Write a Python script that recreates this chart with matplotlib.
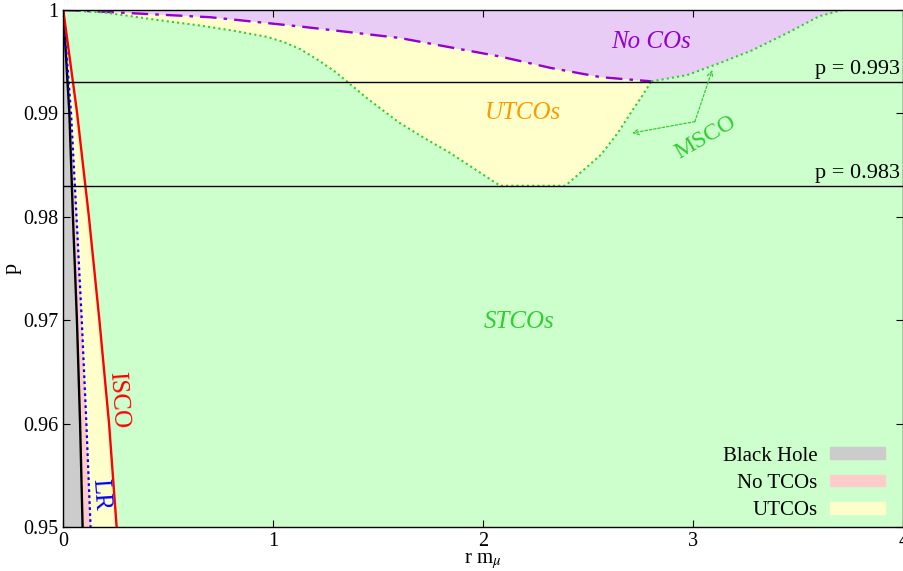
import numpy as np
import matplotlib
matplotlib.use("Agg")
import matplotlib.pyplot as plt
from matplotlib.patches import Patch

plt.rcParams["font.family"] = ["Liberation Serif", "DejaVu Serif"]
plt.rcParams["mathtext.fontset"] = "stix"

# boundary curves near the horizon, r as a function of p
p_edge = [1.0, 0.99, 0.98, 0.97, 0.96, 0.95]
r_bh = [0.0, 0.029, 0.046, 0.065, 0.080, 0.092]
r_lr = [0.0, 0.037, 0.063, 0.088, 0.110, 0.130]
r_isco = [0.0, 0.066, 0.122, 0.172, 0.218, 0.254]

# upper limit of circular orbits (dash-dot)
r_noco = [0.0, 0.22, 0.70, 0.94, 1.13, 1.60, 2.08, 2.32, 2.56, 2.80]
p_noco = [1.0, 0.9998, 0.9993, 0.9988, 0.9984, 0.9973, 0.9955, 0.9944, 0.9935, 0.9931]

# marginally stable circular orbits: branch below the pocket ...
r_msco_lo = [0.0, 0.2, 0.46, 0.65, 0.81, 0.97, 1.05, 1.13, 1.21, 1.29, 1.35, 1.45,
             1.60, 1.72, 1.84, 1.96, 2.08, 2.39, 2.47, 2.56, 2.64, 2.71, 2.76, 2.80]
p_msco_lo = [1.0, 0.99975, 0.9990, 0.9985, 0.9980, 0.9974, 0.9969, 0.9962, 0.9952,
             0.9941, 0.9931, 0.9914, 0.9891, 0.9876, 0.9862, 0.9846, 0.983, 0.983,
             0.9844, 0.9860, 0.9881, 0.9903, 0.9918, 0.9931]
# ... and the branch bounding the no-CO region
r_msco_hi = [2.80, 2.97, 3.13, 3.28, 3.45, 3.60, 3.71]
p_msco_hi = [0.9931, 0.9937, 0.9949, 0.9961, 0.9978, 0.9994, 1.0]

p_levels = [0.993, 0.983]

green_bg = "#ccffcc"
green_ln = "#33cc33"
purple = "#9400d3"

fig = plt.figure(figsize=(9.04, 5.71), dpi=100)
ax = fig.add_axes([0.070, 0.0771, 0.9293, 0.9054])
ax.set_facecolor(green_bg)

# regions left of the ISCO
ax.fill_betweenx(p_edge, 0, r_bh, color="#cccccc", lw=0)
ax.fill_betweenx(p_edge, r_bh, r_lr, color="#ffcccc", lw=0)
ax.fill_betweenx(p_edge, r_lr, r_isco, color="#ffffcc", lw=0)

# UTCO pocket between MSCO and the dash-dot curve
ax.fill(r_noco + r_msco_lo[::-1], p_noco + p_msco_lo[::-1], color="#ffffcc", lw=0)

# no circular orbits at the top
ax.fill(r_noco + r_msco_hi + [0.0], p_noco + p_msco_hi + [1.0], color="#e8ccf5", lw=0)

dots = (0, (1, 1.5))
ax.plot(r_bh, p_edge, color="black", lw=1.7)
ax.plot(r_lr, p_edge, color="blue", lw=1.6, linestyle=(0, (1.2, 1.5)))
ax.plot(r_isco, p_edge, color="red", lw=1.7)
ax.plot(r_noco, p_noco, color=purple, lw=1.7, dashes=[7, 3, 1.5, 3])
ax.plot(r_msco_lo, p_msco_lo, color=green_ln, lw=1.5, linestyle=dots)
ax.plot(r_msco_hi, p_msco_hi, color=green_ln, lw=1.5, linestyle=dots)

for pv in p_levels:
    ax.axhline(pv, color="black", lw=1)
    ax.text(3.985, pv + 0.0003, f"p = {pv}", ha="right", va="bottom", fontsize=16)

# region labels
ax.text(2.80, 0.9969, "No COs", color=purple, style="italic", fontsize=18,
        ha="center", va="center")
ax.text(2.19, 0.9900, "UTCOs", color="#ff9900", style="italic", fontsize=18,
        ha="center", va="center")
ax.text(2.17, 0.9698, "STCOs", color=green_ln, style="italic", fontsize=18,
        ha="center", va="center")
ax.text(0.262, 0.9623, "ISCO", color="red", fontsize=18, rotation=-86,
        ha="center", va="center")
ax.text(0.175, 0.9531, "LR", color="blue", fontsize=18, rotation=-86,
        ha="center", va="center")

ax.text(3.06, 0.9877, "MSCO", color=green_ln, fontsize=17, rotation=30,
        ha="center", va="center")
arrow = dict(arrowstyle="->", color=green_ln, lw=0.9, linestyle=(0, (2, 1.5)),
             shrinkA=0, shrinkB=0)
ax.annotate("", xy=(2.708, 0.9881), xytext=(3.007, 0.9892), arrowprops=arrow)
ax.annotate("", xy=(3.09, 0.9942), xytext=(3.007, 0.9892), arrowprops=arrow)

ax.set_xlim(0, 4)
ax.set_ylim(0.95, 1.0)
ax.set_xticks([0, 1, 2, 3, 4])
ax.set_yticks([0.95, 0.96, 0.97, 0.98, 0.99, 1.0])
ax.set_yticklabels(["0.95", "0.96", "0.97", "0.98", "0.99", "1"])
ax.tick_params(direction="in", top=True, right=True, labelsize=14.5, length=5)
for s in ax.spines.values():
    s.set_linewidth(1)

ax.set_xlabel(r"r m$_{\mu}$", fontsize=15, labelpad=0.5)
ax.set_ylabel("p", fontsize=16, labelpad=1)

handles = [Patch(color="#cccccc", label="Black Hole"),
           Patch(color="#ffcccc", label="No TCOs"),
           Patch(color="#ffffcc", label="UTCOs")]
ax.legend(handles=handles, loc="lower right", bbox_to_anchor=(0.988, -0.003),
          frameon=False, markerfirst=False, fontsize=15, handlelength=2.65,
          handleheight=0.5, handletextpad=0.6, labelspacing=0.4, borderaxespad=0)

fig.savefig("out.png", dpi=100)
